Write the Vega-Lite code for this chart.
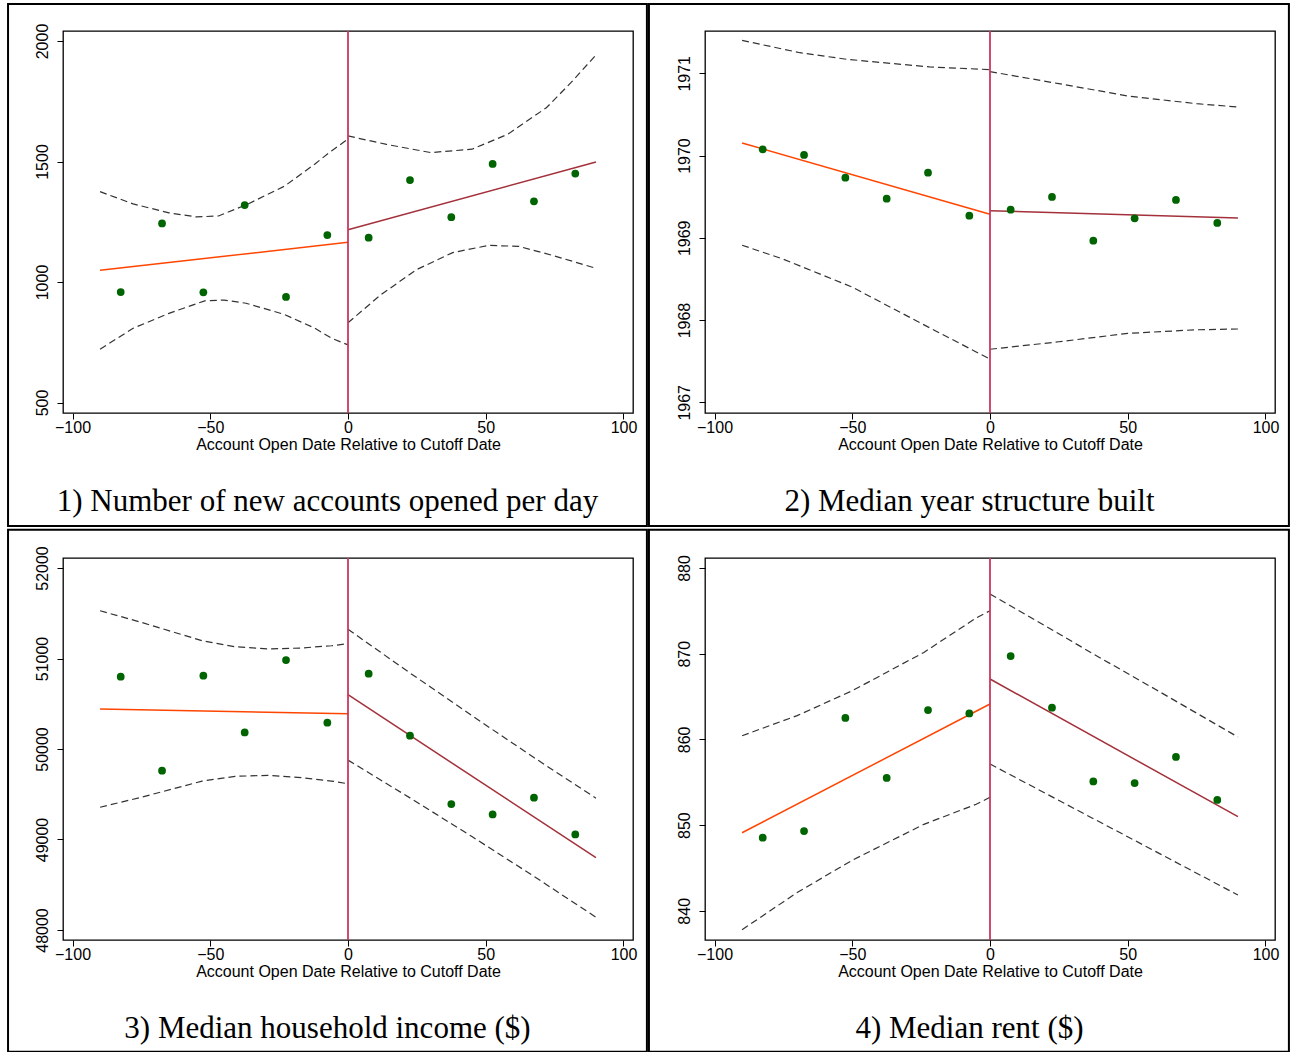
{
"$schema": "https://vega.github.io/schema/vega-lite/v6.json",
"background": "white",
"padding": {"left": 6, "top": 2, "right": 0, "bottom": 0},
"columns": 2,
"spacing": {"row": 145, "column": 72},
"bounds": "flush",
"config": {
 "view": {"stroke": "#000", "strokeWidth": 1.3},
 "axis": {"grid": false, "domain": false, "ticks": true, "tickSize": 6, "tickColor": "#000", "tickWidth": 1, "labelFont": "Liberation Sans", "labelFontSize": 16, "labelColor": "#000", "titleFont": "Liberation Sans", "titleFontSize": 16, "titleFontWeight": "normal", "titleColor": "#000", "labelOverlap": false, "labelFlush": false, "labelBound": false},
 "axisX": {"labelPadding": 0, "titlePadding": 1},
 "axisY": {"labelAngle": 270, "labelAlign": "center", "labelBaseline": "bottom", "labelPadding": 7}
},
"concat": [
 {
  "width": 570, "height": 382,
  "layer": [
   {"data": {"values": [{}]}, "mark": {"type": "rect", "fill": "transparent", "stroke": "#000", "strokeWidth": 2},
    "encoding": {"x": {"datum": -123.4, "scale": {"domain": [-103.45, 103.45], "nice": false, "zero": false}}, "x2": {"datum": 108.5}, "y": {"datum": 2153.5, "scale": {"domain": [456.5, 2041.5], "nice": false, "zero": false}}, "y2": {"datum": -12.5}}},
   {"data": {"values": [
     {"band": "LU", "x": -90, "y": 1375}, {"band": "LU", "x": -78, "y": 1324}, {"band": "LU", "x": -65, "y": 1287}, {"band": "LU", "x": -55, "y": 1270}, {"band": "LU", "x": -47, "y": 1274}, {"band": "LU", "x": -37, "y": 1320}, {"band": "LU", "x": -23, "y": 1398}, {"band": "LU", "x": -12, "y": 1490}, {"band": "LU", "x": -6, "y": 1544}, {"band": "LU", "x": 0, "y": 1593},
     {"band": "LL", "x": -90, "y": 721}, {"band": "LL", "x": -78, "y": 808}, {"band": "LL", "x": -65, "y": 870}, {"band": "LL", "x": -52, "y": 922}, {"band": "LL", "x": -45, "y": 925}, {"band": "LL", "x": -37, "y": 912}, {"band": "LL", "x": -23, "y": 865}, {"band": "LL", "x": -12, "y": 808}, {"band": "LL", "x": -6, "y": 767}, {"band": "LL", "x": 0, "y": 739},
     {"band": "RU", "x": 0, "y": 1606}, {"band": "RU", "x": 14, "y": 1571}, {"band": "RU", "x": 30, "y": 1537}, {"band": "RU", "x": 45, "y": 1551}, {"band": "RU", "x": 58, "y": 1613}, {"band": "RU", "x": 72, "y": 1723}, {"band": "RU", "x": 81, "y": 1828}, {"band": "RU", "x": 90, "y": 1942},
     {"band": "RL", "x": 0, "y": 831}, {"band": "RL", "x": 12, "y": 948}, {"band": "RL", "x": 25, "y": 1052}, {"band": "RL", "x": 38, "y": 1122}, {"band": "RL", "x": 51, "y": 1152}, {"band": "RL", "x": 62, "y": 1148}, {"band": "RL", "x": 75, "y": 1108}, {"band": "RL", "x": 90, "y": 1057}
    ]},
    "mark": {"type": "line", "strokeDash": [7, 4], "color": "#333", "strokeWidth": 1.2},
    "encoding": {
     "x": {"field": "x", "type": "quantitative", "scale": {"domain": [-103.45, 103.45], "nice": false, "zero": false}, "axis": {"values": [-100, -50, 0, 50, 100], "format": "d", "title": "Account Open Date Relative to Cutoff Date"}},
     "y": {"field": "y", "type": "quantitative", "scale": {"domain": [456.5, 2041.5], "nice": false, "zero": false}, "axis": {"values": [500, 1000, 1500, 2000], "format": "d", "title": null}},
     "detail": {"field": "band"}}},
   {"data": {"values": [{"side": "left", "x": -90, "y": 1048.5}, {"side": "left", "x": 0, "y": 1165}, {"side": "right", "x": 0, "y": 1217}, {"side": "right", "x": 90, "y": 1498}]},
    "mark": {"type": "line", "strokeWidth": 1.5},
    "encoding": {"x": {"field": "x", "type": "quantitative", "scale": {"domain": [-103.45, 103.45], "nice": false, "zero": false}}, "y": {"field": "y", "type": "quantitative", "scale": {"domain": [456.5, 2041.5], "nice": false, "zero": false}}, "color": {"field": "side", "type": "nominal", "scale": {"domain": ["left", "right"], "range": ["#ff4500", "#a3303a"]}, "legend": null}}},
   {"data": {"values": [{}]}, "mark": {"type": "rule", "color": "#c8385f", "strokeWidth": 1.8}, "encoding": {"x": {"datum": 0, "scale": {"domain": [-103.45, 103.45], "nice": false, "zero": false}}}},
   {"data": {"values": [{"x": -82.5, "y": 958.5}, {"x": -67.5, "y": 1243}, {"x": -52.5, "y": 957}, {"x": -37.5, "y": 1319.5}, {"x": -22.5, "y": 938}, {"x": -7.5, "y": 1195}, {"x": 7.5, "y": 1184}, {"x": 22.5, "y": 1423}, {"x": 37.5, "y": 1269}, {"x": 52.5, "y": 1490}, {"x": 67.5, "y": 1335}, {"x": 82.5, "y": 1450}]},
    "mark": {"type": "circle", "size": 60, "color": "#006400", "opacity": 1},
    "encoding": {"x": {"field": "x", "type": "quantitative", "scale": {"domain": [-103.45, 103.45], "nice": false, "zero": false}}, "y": {"field": "y", "type": "quantitative", "scale": {"domain": [456.5, 2041.5], "nice": false, "zero": false}}}},
   {"data": {"values": [{}]}, "mark": {"type": "text", "font": "Liberation Serif", "fontSize": 31, "align": "center", "baseline": "alphabetic", "color": "#000"},
    "encoding": {"x": {"datum": -7.45, "scale": {"domain": [-103.45, 103.45], "nice": false, "zero": false}}, "y": {"datum": 49.8, "scale": {"domain": [456.5, 2041.5], "nice": false, "zero": false}}, "text": {"value": "1) Number of new accounts opened per day"}}}
  ]
 },
 {
  "width": 570, "height": 382,
  "layer": [
   {"data": {"values": [{}]}, "mark": {"type": "rect", "fill": "transparent", "stroke": "#000", "strokeWidth": 2},
    "encoding": {"x": {"datum": -123.8, "scale": {"domain": [-103.45, 103.45], "nice": false, "zero": false}}, "x2": {"datum": 108.5}, "y": {"datum": 1971.842, "scale": {"domain": [1966.87, 1971.514], "nice": false, "zero": false}}, "y2": {"datum": 1965.496}}},
   {"data": {"values": [
     {"band": "LU", "x": -90, "y": 1971.40}, {"band": "LU", "x": -69, "y": 1971.25}, {"band": "LU", "x": -52, "y": 1971.17}, {"band": "LU", "x": -22, "y": 1971.077}, {"band": "LU", "x": 0, "y": 1971.045},
     {"band": "LL", "x": -90, "y": 1968.91}, {"band": "LL", "x": -75, "y": 1968.74}, {"band": "LL", "x": -50, "y": 1968.40}, {"band": "LL", "x": -25, "y": 1967.96}, {"band": "LL", "x": 0, "y": 1967.525},
     {"band": "RU", "x": 0, "y": 1971.02}, {"band": "RU", "x": 25, "y": 1970.874}, {"band": "RU", "x": 50, "y": 1970.724}, {"band": "RU", "x": 75, "y": 1970.63}, {"band": "RU", "x": 90, "y": 1970.59},
     {"band": "RL", "x": 0, "y": 1967.645}, {"band": "RL", "x": 25, "y": 1967.736}, {"band": "RL", "x": 50, "y": 1967.838}, {"band": "RL", "x": 75, "y": 1967.882}, {"band": "RL", "x": 90, "y": 1967.891}
    ]},
    "mark": {"type": "line", "strokeDash": [7, 4], "color": "#333", "strokeWidth": 1.2},
    "encoding": {
     "x": {"field": "x", "type": "quantitative", "scale": {"domain": [-103.45, 103.45], "nice": false, "zero": false}, "axis": {"values": [-100, -50, 0, 50, 100], "format": "d", "title": "Account Open Date Relative to Cutoff Date"}},
     "y": {"field": "y", "type": "quantitative", "scale": {"domain": [1966.87, 1971.514], "nice": false, "zero": false}, "axis": {"values": [1967, 1968, 1969, 1970, 1971], "format": "d", "title": null}},
     "detail": {"field": "band"}}},
   {"data": {"values": [{"side": "left", "x": -90, "y": 1970.153}, {"side": "left", "x": 0, "y": 1969.286}, {"side": "right", "x": 0, "y": 1969.330}, {"side": "right", "x": 90, "y": 1969.241}]},
    "mark": {"type": "line", "strokeWidth": 1.5},
    "encoding": {"x": {"field": "x", "type": "quantitative", "scale": {"domain": [-103.45, 103.45], "nice": false, "zero": false}}, "y": {"field": "y", "type": "quantitative", "scale": {"domain": [1966.87, 1971.514], "nice": false, "zero": false}}, "color": {"field": "side", "type": "nominal", "scale": {"domain": ["left", "right"], "range": ["#ff4500", "#a3303a"]}, "legend": null}}},
   {"data": {"values": [{}]}, "mark": {"type": "rule", "color": "#c8385f", "strokeWidth": 1.8}, "encoding": {"x": {"datum": 0, "scale": {"domain": [-103.45, 103.45], "nice": false, "zero": false}}}},
   {"data": {"values": [{"x": -82.5, "y": 1970.076}, {"x": -67.5, "y": 1970.007}, {"x": -52.5, "y": 1969.731}, {"x": -37.5, "y": 1969.475}, {"x": -22.5, "y": 1969.791}, {"x": -7.5, "y": 1969.269}, {"x": 7.5, "y": 1969.342}, {"x": 22.5, "y": 1969.496}, {"x": 37.5, "y": 1968.965}, {"x": 52.5, "y": 1969.237}, {"x": 67.5, "y": 1969.460}, {"x": 82.5, "y": 1969.180}]},
    "mark": {"type": "circle", "size": 60, "color": "#006400", "opacity": 1},
    "encoding": {"x": {"field": "x", "type": "quantitative", "scale": {"domain": [-103.45, 103.45], "nice": false, "zero": false}}, "y": {"field": "y", "type": "quantitative", "scale": {"domain": [1966.87, 1971.514], "nice": false, "zero": false}}}},
   {"data": {"values": [{}]}, "mark": {"type": "text", "font": "Liberation Serif", "fontSize": 31, "align": "center", "baseline": "alphabetic", "color": "#000"},
    "encoding": {"x": {"datum": -7.45, "scale": {"domain": [-103.45, 103.45], "nice": false, "zero": false}}, "y": {"datum": 1965.678, "scale": {"domain": [1966.87, 1971.514], "nice": false, "zero": false}}, "text": {"value": "2) Median year structure built"}}}
  ]
 },
 {
  "width": 570, "height": 382,
  "layer": [
   {"data": {"values": [{}]}, "mark": {"type": "rect", "fill": "transparent", "stroke": "#000", "strokeWidth": 2},
    "encoding": {"x": {"datum": -123.4, "scale": {"domain": [-103.45, 103.45], "nice": false, "zero": false}}, "x2": {"datum": 108.5}, "y": {"datum": 52423, "scale": {"domain": [47889.5, 52110.5], "nice": false, "zero": false}}, "y2": {"datum": 46655}}},
   {"data": {"values": [
     {"band": "LU", "x": -90, "y": 51528}, {"band": "LU", "x": -75, "y": 51399}, {"band": "LU", "x": -53, "y": 51197}, {"band": "LU", "x": -41, "y": 51130}, {"band": "LU", "x": -29, "y": 51105}, {"band": "LU", "x": -17, "y": 51116}, {"band": "LU", "x": -6, "y": 51141}, {"band": "LU", "x": 0, "y": 51164},
     {"band": "LL", "x": -90, "y": 49356}, {"band": "LL", "x": -75, "y": 49467}, {"band": "LL", "x": -53, "y": 49645}, {"band": "LL", "x": -41, "y": 49698}, {"band": "LL", "x": -29, "y": 49709}, {"band": "LL", "x": -17, "y": 49684}, {"band": "LL", "x": -6, "y": 49646}, {"band": "LL", "x": 0, "y": 49616},
     {"band": "RU", "x": 0, "y": 51323}, {"band": "RU", "x": 22.5, "y": 50840}, {"band": "RU", "x": 45, "y": 50368}, {"band": "RU", "x": 67.5, "y": 49905}, {"band": "RU", "x": 90, "y": 49457},
     {"band": "RL", "x": 0, "y": 49877}, {"band": "RL", "x": 22.5, "y": 49460}, {"band": "RL", "x": 45, "y": 49032}, {"band": "RL", "x": 67.5, "y": 48593}, {"band": "RL", "x": 90, "y": 48141}
    ]},
    "mark": {"type": "line", "strokeDash": [7, 4], "color": "#333", "strokeWidth": 1.2},
    "encoding": {
     "x": {"field": "x", "type": "quantitative", "scale": {"domain": [-103.45, 103.45], "nice": false, "zero": false}, "axis": {"values": [-100, -50, 0, 50, 100], "format": "d", "title": "Account Open Date Relative to Cutoff Date"}},
     "y": {"field": "y", "type": "quantitative", "scale": {"domain": [47889.5, 52110.5], "nice": false, "zero": false}, "axis": {"values": [48000, 49000, 50000, 51000, 52000], "format": "d", "title": null}},
     "detail": {"field": "band"}}},
   {"data": {"values": [{"side": "left", "x": -90, "y": 50442}, {"side": "left", "x": 0, "y": 50390}, {"side": "right", "x": 0, "y": 50600}, {"side": "right", "x": 90, "y": 48799}]},
    "mark": {"type": "line", "strokeWidth": 1.5},
    "encoding": {"x": {"field": "x", "type": "quantitative", "scale": {"domain": [-103.45, 103.45], "nice": false, "zero": false}}, "y": {"field": "y", "type": "quantitative", "scale": {"domain": [47889.5, 52110.5], "nice": false, "zero": false}}, "color": {"field": "side", "type": "nominal", "scale": {"domain": ["left", "right"], "range": ["#ff4500", "#a3303a"]}, "legend": null}}},
   {"data": {"values": [{}]}, "mark": {"type": "rule", "color": "#c8385f", "strokeWidth": 1.8}, "encoding": {"x": {"datum": 0, "scale": {"domain": [-103.45, 103.45], "nice": false, "zero": false}}}},
   {"data": {"values": [{"x": -82.5, "y": 50799}, {"x": -67.5, "y": 49760}, {"x": -52.5, "y": 50810}, {"x": -37.5, "y": 50183}, {"x": -22.5, "y": 50983}, {"x": -7.5, "y": 50291}, {"x": 7.5, "y": 50832}, {"x": 22.5, "y": 50147}, {"x": 37.5, "y": 49392}, {"x": 52.5, "y": 49277}, {"x": 67.5, "y": 49462}, {"x": 82.5, "y": 49056}]},
    "mark": {"type": "circle", "size": 60, "color": "#006400", "opacity": 1},
    "encoding": {"x": {"field": "x", "type": "quantitative", "scale": {"domain": [-103.45, 103.45], "nice": false, "zero": false}}, "y": {"field": "y", "type": "quantitative", "scale": {"domain": [47889.5, 52110.5], "nice": false, "zero": false}}}},
   {"data": {"values": [{}]}, "mark": {"type": "text", "font": "Liberation Serif", "fontSize": 31, "align": "center", "baseline": "alphabetic", "color": "#000"},
    "encoding": {"x": {"datum": -7.45, "scale": {"domain": [-103.45, 103.45], "nice": false, "zero": false}}, "y": {"datum": 46810, "scale": {"domain": [47889.5, 52110.5], "nice": false, "zero": false}}, "text": {"value": "3) Median household income ($)"}}}
  ]
 },
 {
  "width": 570, "height": 382,
  "layer": [
   {"data": {"values": [{}]}, "mark": {"type": "rect", "fill": "transparent", "stroke": "#000", "strokeWidth": 2},
    "encoding": {"x": {"datum": -123.8, "scale": {"domain": [-103.45, 103.45], "nice": false, "zero": false}}, "x2": {"datum": 108.5}, "y": {"datum": 884.469, "scale": {"domain": [836.593, 881.167], "nice": false, "zero": false}}, "y2": {"datum": 823.56}}},
   {"data": {"values": [
     {"band": "LU", "x": -90, "y": 860.43}, {"band": "LU", "x": -70, "y": 862.77}, {"band": "LU", "x": -50, "y": 865.68}, {"band": "LU", "x": -24, "y": 870.15}, {"band": "LU", "x": -5, "y": 874.17}, {"band": "LU", "x": 0, "y": 875.02},
     {"band": "LL", "x": -90, "y": 837.79}, {"band": "LL", "x": -70, "y": 842.13}, {"band": "LL", "x": -50, "y": 845.90}, {"band": "LL", "x": -24, "y": 850.09}, {"band": "LL", "x": -5, "y": 852.43}, {"band": "LL", "x": 0, "y": 853.24},
     {"band": "RU", "x": 0, "y": 876.97}, {"band": "RU", "x": 20, "y": 873.26}, {"band": "RU", "x": 38, "y": 869.88}, {"band": "RU", "x": 60, "y": 865.85}, {"band": "RU", "x": 90, "y": 860.28},
     {"band": "RL", "x": 0, "y": 857.13}, {"band": "RL", "x": 20, "y": 853.73}, {"band": "RL", "x": 38, "y": 850.67}, {"band": "RL", "x": 60, "y": 846.94}, {"band": "RL", "x": 90, "y": 841.84}
    ]},
    "mark": {"type": "line", "strokeDash": [7, 4], "color": "#333", "strokeWidth": 1.2},
    "encoding": {
     "x": {"field": "x", "type": "quantitative", "scale": {"domain": [-103.45, 103.45], "nice": false, "zero": false}, "axis": {"values": [-100, -50, 0, 50, 100], "format": "d", "title": "Account Open Date Relative to Cutoff Date"}},
     "y": {"field": "y", "type": "quantitative", "scale": {"domain": [836.593, 881.167], "nice": false, "zero": false}, "axis": {"values": [840, 850, 860, 870, 880], "format": "d", "title": null}},
     "detail": {"field": "band"}}},
   {"data": {"values": [{"side": "left", "x": -90, "y": 849.11}, {"side": "left", "x": 0, "y": 864.13}, {"side": "right", "x": 0, "y": 867.05}, {"side": "right", "x": 90, "y": 850.98}]},
    "mark": {"type": "line", "strokeWidth": 1.5},
    "encoding": {"x": {"field": "x", "type": "quantitative", "scale": {"domain": [-103.45, 103.45], "nice": false, "zero": false}}, "y": {"field": "y", "type": "quantitative", "scale": {"domain": [836.593, 881.167], "nice": false, "zero": false}}, "color": {"field": "side", "type": "nominal", "scale": {"domain": ["left", "right"], "range": ["#ff4500", "#a3303a"]}, "legend": null}}},
   {"data": {"values": [{}]}, "mark": {"type": "rule", "color": "#c8385f", "strokeWidth": 1.8}, "encoding": {"x": {"datum": 0, "scale": {"domain": [-103.45, 103.45], "nice": false, "zero": false}}}},
   {"data": {"values": [{"x": -82.5, "y": 848.53}, {"x": -67.5, "y": 849.31}, {"x": -52.5, "y": 862.50}, {"x": -37.5, "y": 855.50}, {"x": -22.5, "y": 863.43}, {"x": -7.5, "y": 863.03}, {"x": 7.5, "y": 869.73}, {"x": 22.5, "y": 863.70}, {"x": 37.5, "y": 855.10}, {"x": 52.5, "y": 854.91}, {"x": 67.5, "y": 857.95}, {"x": 82.5, "y": 852.93}]},
    "mark": {"type": "circle", "size": 60, "color": "#006400", "opacity": 1},
    "encoding": {"x": {"field": "x", "type": "quantitative", "scale": {"domain": [-103.45, 103.45], "nice": false, "zero": false}}, "y": {"field": "y", "type": "quantitative", "scale": {"domain": [836.593, 881.167], "nice": false, "zero": false}}}},
   {"data": {"values": [{}]}, "mark": {"type": "text", "font": "Liberation Serif", "fontSize": 31, "align": "center", "baseline": "alphabetic", "color": "#000"},
    "encoding": {"x": {"datum": -7.45, "scale": {"domain": [-103.45, 103.45], "nice": false, "zero": false}}, "y": {"datum": 825.2, "scale": {"domain": [836.593, 881.167], "nice": false, "zero": false}}, "text": {"value": "4) Median rent ($)"}}}
  ]
 }
]
}
